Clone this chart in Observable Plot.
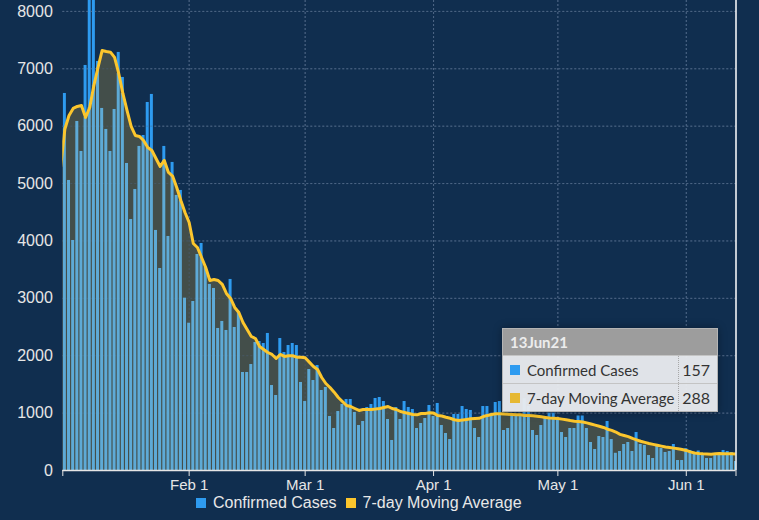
<!DOCTYPE html>
<html>
<head>
<meta charset="utf-8">
<script src="https://cdn.jsdelivr.net/npm/d3@7"></script>
<script src="https://cdn.jsdelivr.net/npm/@observablehq/plot@0.6"></script>
<style>
  html, body { margin: 0; padding: 0; background: #102e4f; width: 759px; height: 520px; overflow: hidden; }
  #wrap { position: relative; width: 759px; height: 520px; }
  #chart svg { display: block; }
  #legend { position: absolute; left: 196px; top: 494px; height: 18px; display: flex; align-items: center;
            font-family: "Liberation Sans", Arial, sans-serif; font-size: 16px; color: #e8e8e8; white-space: nowrap; }
  #legend .sw { width: 10px; height: 10px; display: inline-block; margin-right: 7px; }
  #legend .item { display: flex; align-items: center; margin-right: 9px; }
  #tip { position: absolute; left: 502px; top: 328px; width: 214px; border: 1px solid #b4b4b4;
         font-family: Lato, "Noto Sans", sans-serif; box-shadow: 0 0 8px rgba(0,0,0,0.35); }
  #tip .hd { height: 26px; line-height: 27px; background: #9d9d9d; color: #ececec; font-weight: bold; font-size: 15px; padding-left: 7px; }
  #tip .row { height: 27px; background: rgba(233,235,238,0.96); border-top: 1px solid #c4c4c4; display: flex; align-items: center; color: #333; font-size: 15px; white-space: nowrap; }
  #tip .row .sw { width: 10px; height: 10px; margin: 0 7px 0 7px; flex: none; }
  #tip .row .lbl { flex: 1; overflow: visible; }
  #tip .row .val { width: 31px; flex: none; height: 100%; line-height: 28px; border-left: 1px dotted #a8a8a8; text-align: right; padding-right: 7px; font-size: 16px; }
</style>
</head>
<body>
<div id="wrap">
  <div id="chart"></div>
  <div id="legend"></div>
  <div id="tip"></div>
</div>
<script>
// ---- data ----
const casesStart = "2021-01-02";   // first visible bar
const avgStart = "2021-01-01";
const seriesNames = ["Confirmed Cases", "7-day Moving Average"];
const seriesColors = ["#2e9bf0", "#fcc62d"];
const tipColors = ["#2e9bf0", "#e6b832"];

const cases = [
  6570, 5054, 4008, 6082, 5559, 7058, 8800, 8500, 7128, 6309, 5943, 5559, 6291, 7285, 6849, 5350, 4374, 4897, 5647, 5838,
  6413, 6553, 4183, 3520, 5647, 4078, 5368, 4793,
  4880, 3003, 2567, 2945, 3764, 3956, 3543, 3242, 3172, 2475, 2597, 2440, 3329, 2492, 2771, 1708, 1708, 1847, 2231, 2248,
  2213, 2388, 1481, 1307, 2300, 2056, 2178, 2213,
  2178, 1534, 1202, 1760, 1568, 1830, 1394, 1447, 941, 732, 1028, 1150, 1237, 1237, 1011, 784, 854, 1098, 1150, 1255,
  1272, 1202, 889, 523, 1098, 889, 1202, 1098, 1063, 732, 819, 906,
  1133, 941, 1168, 784, 645, 540, 976, 976, 1115, 1063, 1046, 732, 575, 1115, 1115, 993, 1185, 1202, 697, 732,
  958, 958, 958, 1250, 1115, 697, 610, 784, 924, 1000, 1000, 924,
  662, 575, 732, 732, 950, 950, 732, 488, 366, 592, 575, 854, 540, 300, 331, 453, 488, 331, 662, 453,
  436, 261, 209, 436, 383, 314, 331, 453, 174, 174, 383, 349, 314, 340, 279, 209, 209, 279, 261, 349,
  331, 314, 157
];

const avg = [
  5300, 5950, 6187, 6309, 6344, 6361, 6152, 6326, 6710, 7023, 7320, 7302, 7290, 7198, 6919, 6570, 6274, 5995, 5838, 5821,
  5751, 5629, 5577, 5437, 5298, 5403, 5193, 5130, 4932, 4705, 4496, 4322, 3956, 3886, 3712, 3538, 3311, 3329, 3311, 3242,
  3085, 2998, 2841, 2754, 2579, 2457, 2335, 2300, 2161, 2109, 2056, 2022, 1952, 2022, 1987, 2000, 2000, 1975, 1975, 1964,
  1888, 1812, 1760, 1621, 1516, 1447, 1365, 1272, 1202, 1133, 1115, 1080, 1046, 1063, 1063, 1063, 1070, 1080, 1098, 1115,
  1080, 1063, 1028, 1011, 993, 976, 970, 993, 995, 1005, 1000, 958, 950, 929, 910, 884, 871, 880, 890, 900,
  905, 910, 940, 960, 975, 990, 990, 985, 980, 975, 970, 970, 960, 960, 955, 945, 935, 925, 915, 910,
  905, 895, 885, 870, 860, 855, 845, 830, 810, 790, 770, 750, 720, 700, 670, 630, 610, 590, 560, 535,
  510, 490, 470, 455, 440, 425, 410, 400, 390, 380, 365, 350, 325, 305, 295, 290, 288, 285, 290, 295,
  290, 292, 290, 288
];

const monthTickLabels = ["2021-02-01", "2021-03-01", "2021-04-01", "2021-05-01", "2021-06-01"];
const yTickValues = [0, 1000, 2000, 3000, 4000, 5000, 6000, 7000, 8000];
const xDomainLabels = ["2021-01-01T12:00:00Z", "2021-06-13T00:00:00Z"];
const yDomainMax = 8190;

// ---- build tables ----
const parse = d3.utcParse("%Y-%m-%d");
const caseDates = cases.map((_, i) => d3.utcDay.offset(parse(casesStart), i));
const avgDates = avg.map((_, i) => d3.utcDay.offset(parse(avgStart), i));
const avgByTime = new Map(avgDates.map((d, i) => [+d, avg[i]]));
const half = 520; // minutes: half bar width
const bars = cases.map((v, i) => ({
  date: caseDates[i],
  x1: d3.utcMinute.offset(caseDates[i], -half),
  x2: d3.utcMinute.offset(caseDates[i], half),
  value: v,
  under: Math.min(v, avgByTime.get(+caseDates[i]))
}));
const avgRows = avg.map((v, i) => ({date: avgDates[i], avg: v}));
const monthTicks = monthTickLabels.map(parse);
const xDomain = xDomainLabels.map(s => new Date(s));
const endTicks = [xDomain[0], xDomain[1]];

const gridStyle = {stroke: "#4d6585", strokeOpacity: 1, strokeDasharray: "2,2", strokeWidth: 1};

const chart = Plot.plot({
  width: 759,
  height: 495,
  marginTop: 0,
  marginBottom: 25,
  marginLeft: 62.3,
  marginRight: 23.5,
  style: {background: "transparent", color: "#e6e6e6", fontFamily: "'Liberation Sans', Arial, sans-serif", fontSize: "15px", overflow: "visible"},
  x: {type: "utc", domain: xDomain},
  y: {domain: [0, yDomainMax]},
  marks: [
    Plot.gridY(yTickValues, gridStyle),
    Plot.gridX(monthTicks, gridStyle),
    Plot.rectY(bars, {x1: "x1", x2: "x2", y: "value", fill: seriesColors[0], clip: true}),
    Plot.areaY(avgRows, {x: "date", y: "avg", fill: "#434e4a", clip: true}),
    Plot.gridY(yTickValues, {...gridStyle, strokeOpacity: 0.45}),
    Plot.gridX(monthTicks, {...gridStyle, strokeOpacity: 0.45}),
    Plot.rectY(bars, {x1: "x1", x2: "x2", y: "under", fill: "#5eaad6", clip: true}),
    Plot.line(avgRows, {x: "date", y: "avg", stroke: seriesColors[1], strokeWidth: 3, clip: true}),
    Plot.ruleX([xDomain[1]], {stroke: "#ffffff", strokeWidth: 1.5}),
    Plot.ruleY([0], {stroke: "#e6e6e6", strokeWidth: 1.5}),
    Plot.axisX([...endTicks, ...monthTicks], {
      tickSize: 6, tickPadding: 3, fontSize: 15,
      tickFormat: d => (+d === +endTicks[0] || +d === +endTicks[1]) ? "" : d3.utcFormat("%b %-d")(d),
      label: null
    }),
    Plot.axisY(yTickValues, {tickSize: 0, tickPadding: 10, fontSize: 16, tickFormat: d3.format("d"), label: null})
  ]
});
document.getElementById("chart").appendChild(chart);

// legend
const legend = document.getElementById("legend");
seriesNames.forEach((name, i) => {
  const item = document.createElement("span");
  item.className = "item";
  const sw = document.createElement("span");
  sw.className = "sw";
  sw.style.background = seriesColors[i];
  item.appendChild(sw);
  item.appendChild(document.createTextNode(name));
  legend.appendChild(item);
});

// tooltip for the last day
const tip = document.getElementById("tip");
const hd = document.createElement("div");
hd.className = "hd";
hd.textContent = d3.utcFormat("%d%b%y")(caseDates[caseDates.length - 1]);
tip.appendChild(hd);
const tipValues = [cases[cases.length - 1], avg[avg.length - 1]];
seriesNames.forEach((name, i) => {
  const row = document.createElement("div");
  row.className = "row";
  row.innerHTML = `<span class="sw" style="background:${tipColors[i]}"></span><span class="lbl">${name}</span><span class="val">${tipValues[i]}</span>`;
  tip.appendChild(row);
});
</script>
</body>
</html>
